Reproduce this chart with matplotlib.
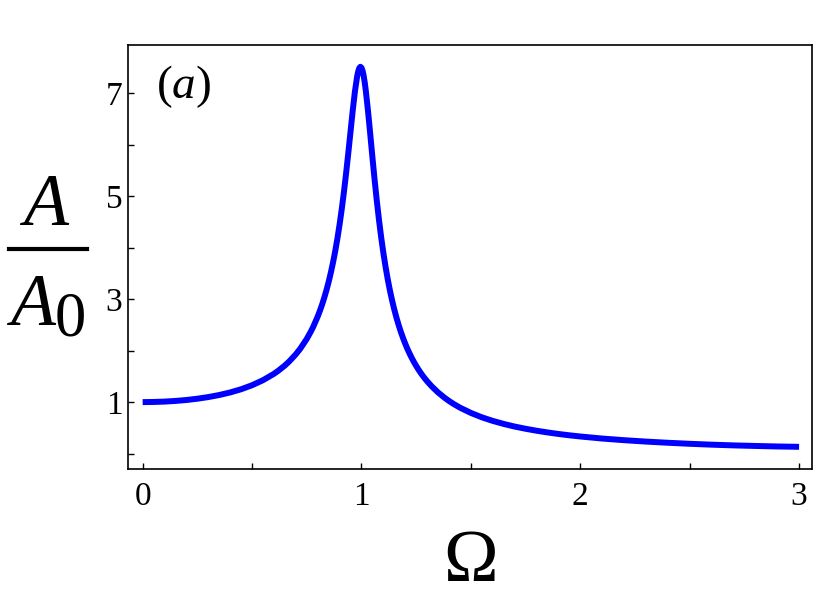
import matplotlib
matplotlib.use('Agg')
import matplotlib.pyplot as plt
from matplotlib.lines import Line2D

# values (resonance, A/A0 vs Omega)
omega = [0.0, 0.05, 0.1, 0.15, 0.2, 0.25, 0.3, 0.35, 0.4, 0.45, 0.5, 0.55,
         0.6, 0.62, 0.65, 0.67, 0.7, 0.72, 0.75, 0.77, 0.78, 0.8, 0.81,
         0.82, 0.83, 0.84, 0.85, 0.86, 0.87, 0.88, 0.89, 0.9, 0.91, 0.92,
         0.93, 0.94, 0.95, 0.96, 0.97, 0.98, 0.985, 0.99, 0.995, 1.0,
         1.005, 1.01, 1.015, 1.02, 1.03, 1.04, 1.05, 1.06, 1.07, 1.08,
         1.09, 1.1, 1.11, 1.12, 1.13, 1.14, 1.15, 1.16, 1.17, 1.18, 1.19,
         1.2, 1.21, 1.22, 1.23, 1.24, 1.25, 1.26, 1.27, 1.28, 1.29, 1.3,
         1.32, 1.35, 1.38, 1.4, 1.42, 1.45, 1.5, 1.55, 1.6, 1.65, 1.7,
         1.75, 1.8, 1.85, 1.9, 1.95, 2.0, 2.1, 2.2, 2.3, 2.4, 2.5, 2.6,
         2.7, 2.8, 2.9, 3.0]
ratio = [1.000, 1.003, 1.010, 1.023, 1.041, 1.066, 1.098, 1.138, 1.188,
         1.250, 1.328, 1.426, 1.550, 1.610, 1.712, 1.791, 1.929, 2.036,
         2.228, 2.382, 2.468, 2.663, 2.774, 2.895, 3.029, 3.175, 3.336,
         3.515, 3.712, 3.932, 4.177, 4.450, 4.753, 5.087, 5.453, 5.846,
         6.255, 6.661, 7.032, 7.322, 7.425, 7.491, 7.517, 7.500, 7.441,
         7.344, 7.211, 7.048, 6.656, 6.215, 5.763, 5.325, 4.917, 4.544,
         4.207, 3.904, 3.633, 3.390, 3.172, 2.977, 2.800, 2.641, 2.497,
         2.365, 2.246, 2.136, 2.035, 1.943, 1.857, 1.778, 1.705, 1.636,
         1.573, 1.513, 1.458, 1.406, 1.311, 1.188, 1.084, 1.023, 0.967,
         0.893, 0.790, 0.705, 0.635, 0.576, 0.525, 0.482, 0.444, 0.411,
         0.381, 0.355, 0.332, 0.292, 0.260, 0.233, 0.210, 0.190, 0.173,
         0.159, 0.148, 0.138, 0.131]

xticks = [0, 1, 2, 3]
xminor = [0.5, 1.5, 2.5]
yticks = [1, 3, 5, 7]
yminor = [0, 2, 4, 6]

serif = 'Liberation Serif'
plt.rcParams['font.family'] = serif
plt.rcParams['mathtext.fontset'] = 'custom'
plt.rcParams['mathtext.rm'] = serif
plt.rcParams['mathtext.it'] = serif + ':italic'

fig = plt.figure(figsize=(8.3, 5.97), dpi=100)
ax = fig.add_axes([0.1542, 0.2144, 0.8241, 0.7102])

ax.plot(omega, ratio, color=(0, 0, 1), lw=4.3, solid_joinstyle='round',
        solid_capstyle='butt')

ax.set_xlim(-0.067, 3.059)
ax.set_ylim(-0.30, 7.94)

ax.set_xticks(xticks)
ax.set_xticks(xminor, minor=True)
ax.set_yticks(yticks)
ax.set_yticks(yminor, minor=True)
ax.set_xticklabels([str(t) for t in xticks])
ax.set_yticklabels([str(t) for t in yticks])
ax.tick_params(which='both', direction='in', length=4.5, width=1.0,
               top=False, right=False, labelsize=24, color='k')
ax.tick_params(axis='x', which='major', pad=9)
ax.tick_params(axis='y', which='major', pad=4)
for sp in ax.spines.values():
    sp.set_linewidth(1.2)

# panel tag: upright parens, italic letter
ax.text(0.041, 0.875, r'($\mathit{a}$)', transform=ax.transAxes,
        fontsize=34, va='baseline', ha='left')

# x label
fig.text(471 / 830, 1 - 581 / 597, '\u03a9', fontsize=53,
         ha='center', va='baseline')

# y label as a stacked fraction A / A0
W, H = 830.0, 597.0
fig.text(46 / W, 1 - 225 / H, 'A', fontsize=53, fontstyle='italic',
         ha='center', va='baseline')
fig.add_artist(Line2D([9 / W, 87 / W], [1 - 249 / H, 1 - 249 / H],
                      color='k', lw=3.0, transform=fig.transFigure))
fig.text(10 / W, 1 - 325 / H, 'A', fontsize=53, fontstyle='italic',
         ha='left', va='baseline')
fig.text(70 / W, 1 - 336 / H, '0', fontsize=45,
         ha='center', va='baseline')

fig.savefig('out.png', dpi=100)
